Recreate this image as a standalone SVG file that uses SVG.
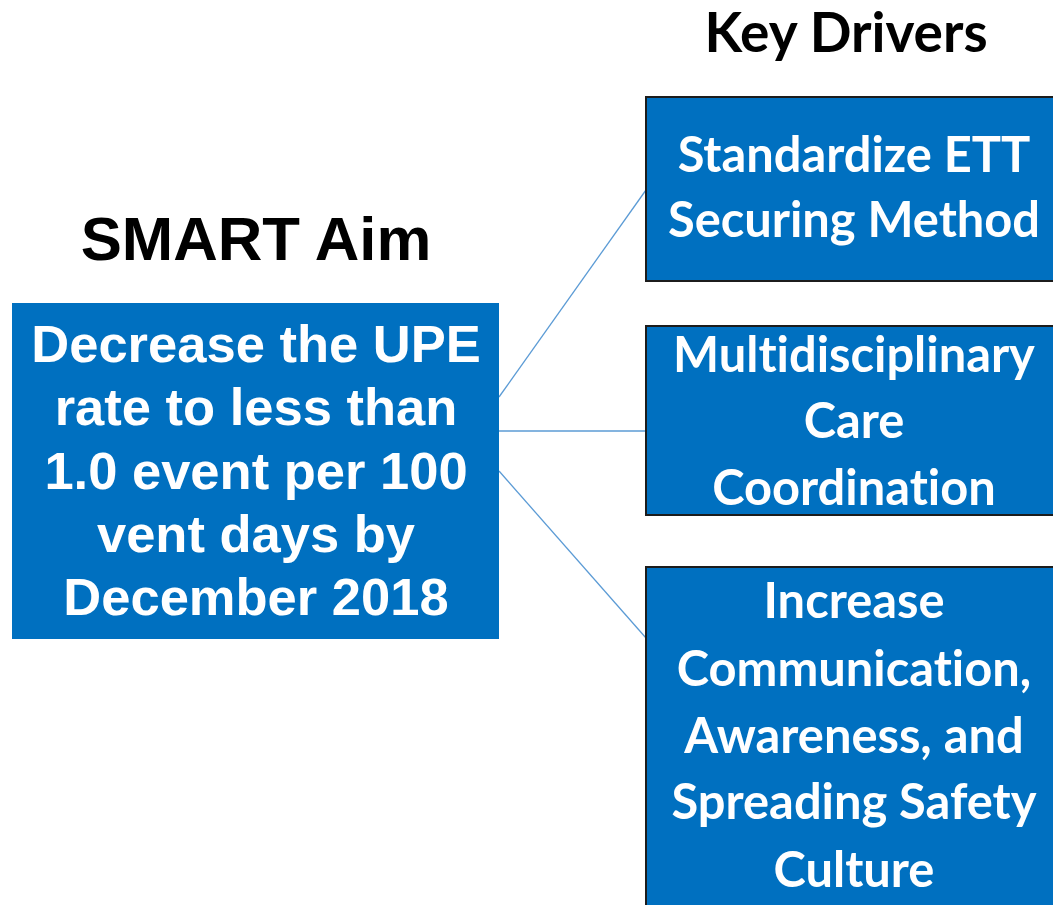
<svg xmlns="http://www.w3.org/2000/svg" width="1053" height="905" viewBox="0 0 1053 905">
  <style>
    .aim { fill: #0070c0; }
    .driver { fill: #0070c0; stroke: #1c1c1c; stroke-width: 2; }
    .link { stroke: #5b9bd5; stroke-width: 1.3; fill: none; }
    .head-aim { font-family: "Liberation Sans", Arial, sans-serif; font-weight: bold; font-size: 61.7px; fill: #000; text-anchor: middle; }
    .head-drv { font-family: Lato, "Open Sans", sans-serif; font-weight: bold; font-size: 55px; fill: #000; text-anchor: middle; font-variant-ligatures: none; }
    .aim-text { font-family: "Liberation Sans", Arial, sans-serif; font-weight: bold; font-size: 52.5px; fill: #fff; text-anchor: middle; }
    .drv-text { font-family: Lato, "Open Sans", sans-serif; font-weight: bold; font-size: 48.8px; fill: #fff; text-anchor: middle; font-variant-ligatures: none; }
  </style>
  <rect width="1053" height="905" fill="#fff"/>

  <!-- headings -->
  <text class="head-drv" x="846" y="52">Key Drivers</text>
  <text class="head-aim" x="256" y="260">SMART Aim</text>

  <!-- links from aim to drivers -->
  <g id="connectors">
    <line class="link" x1="499" y1="397" x2="646" y2="190"/>
    <line class="link" x1="499" y1="431" x2="646" y2="431"/>
    <line class="link" x1="499" y1="471" x2="646" y2="638"/>
  </g>

  <g id="smart-aim">
    <rect class="aim" x="12" y="303" width="487" height="336"/>
    <text class="aim-text" x="256" y="362">Decrease the UPE</text>
    <text class="aim-text" x="256" y="425">rate to less than</text>
    <text class="aim-text" x="256" y="489">1.0 event per 100</text>
    <text class="aim-text" x="256" y="552">vent days by</text>
    <text class="aim-text" x="256" y="615">December 2018</text>
  </g>

  <g id="driver-ett">
    <rect class="driver" x="646" y="97" width="430" height="184"/>
    <text class="drv-text" x="854" y="172">Standardize ETT</text>
    <text class="drv-text" x="854" y="237">Securing Method</text>
  </g>

  <g id="driver-care">
    <rect class="driver" x="646" y="326" width="430" height="189"/>
    <text class="drv-text" x="854" y="372">Multidisciplinary</text>
    <text class="drv-text" x="854" y="438">Care</text>
    <text class="drv-text" x="854" y="505">Coordination</text>
  </g>

  <g id="driver-culture">
    <rect class="driver" x="646" y="567" width="430" height="360"/>
    <text class="drv-text" x="854" y="618">Increase</text>
    <text class="drv-text" x="854" y="686">Communication,</text>
    <text class="drv-text" x="854" y="753">Awareness, and</text>
    <text class="drv-text" x="854" y="819">Spreading Safety</text>
    <text class="drv-text" x="854" y="887">Culture</text>
  </g>
</svg>
